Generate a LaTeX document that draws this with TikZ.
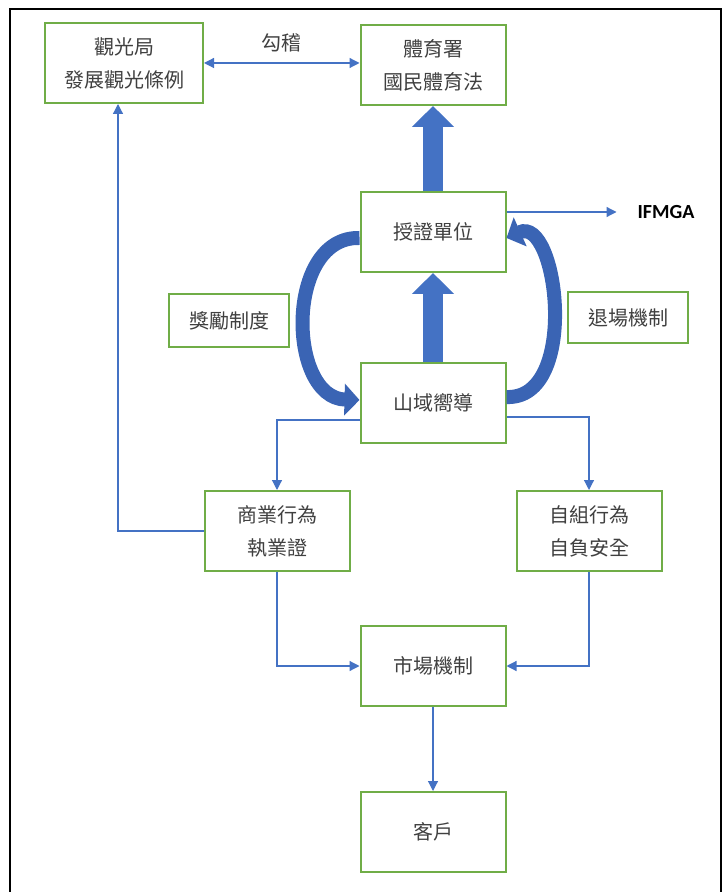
\documentclass[tikz,border=0pt]{standalone}
\usepackage{fontspec}
\usepackage{xcolor}
\usepackage{tikz}
\usetikzlibrary{arrows.meta}
\newfontfamily\cjk{Noto Sans CJK TC}
\newfontfamily\latin{Carlito}
\definecolor{box_green}{HTML}{70ad47}
\definecolor{line_blue}{HTML}{4472c4}
\definecolor{curve_blue}{HTML}{3a64b4}
\definecolor{text_gray}{HTML}{404040}

\tikzset{
  box/.style={draw=box_green, line width=1pt, fill=white, text=text_gray,
    font=\cjk\fontsize{10}{16.5}\selectfont, align=center,
    minimum width=72.5pt, minimum height=40pt, inner sep=0pt},
  smallbox/.style={box, minimum width=60pt, minimum height=26.5pt},
  thin/.style={draw=line_blue, line width=0.6pt, -{Triangle[length=5pt, width=5pt]}},
  bigarrow/.style={draw=line_blue, line width=10pt, -{Triangle[length=10.5pt, width=20.5pt]}},
  curvearrow/.style={draw=curve_blue, line width=7pt, -{Triangle[length=7.5pt, width=15.5pt]}}
}

\begin{document}
\begin{tikzpicture}[x=0.5pt, y=-0.5pt]
    \useasboundingbox (0,0) rectangle (723,892);
    % outer frame
    \draw[line width=1pt] (10,9) rectangle (721,910);

    % Draw boxes
    \node[box, minimum width=79pt] (guanguang) at (124,63) {觀光局\\發展觀光條例};
    \node[box] (tiyu) at (433,65) {體育署\\國民體育法};
    \node[box] (shouzheng) at (433,232) {授證單位};
    \node[smallbox] (jiangli) at (229,321) {獎勵制度};
    \node[smallbox, minimum height=25.5pt] (tuichang) at (628,318) {退場機制};
    \node[box] (shanyu) at (433,403) {山域嚮導};
    \node[box] (shangye) at (277,531) {商業行為\\執業證};
    \node[box] (zizu) at (589,531) {自組行為\\自負安全};
    \node[box] (shichang) at (433,666) {市場機制};
    \node[box] (kehu) at (433,832) {客戶};
    \node[font=\latin\bfseries\fontsize{10}{12}\selectfont] (ifmga) at (666,212) {IFMGA};

    % Big arrows upward
    \draw[bigarrow] (shouzheng.north) -- (tiyu.south);
    \draw[bigarrow] (shanyu.north) -- (shouzheng.south);

    % Curved arrows between guide and certifier
    \draw[curvearrow] ([yshift=-3pt]shouzheng.west) .. controls (285,236) and (287,398) .. ([yshift=1.5pt]shanyu.west);
    \draw[curvearrow] ([yshift=3pt]shanyu.east) .. controls (580,400) and (558,215) .. ([yshift=-3pt]shouzheng.east);

    % Thin connectors
    \draw[thin, {Triangle[length=5pt, width=5pt]}-{Triangle[length=5pt, width=5pt]}] (guanguang.east) -- (guanguang.east -| tiyu.west) node[midway, above=2pt, text=text_gray, font=\cjk\fontsize{10}{12}\selectfont] (gouji) {勾稽};
    \draw[thin, shorten >=7pt] ([yshift=10pt]shouzheng.east) -- (ifmga.west);
    \draw[thin] ([yshift=-8.5pt]shanyu.west) -| (shangye.north);
    \draw[thin] ([yshift=-7pt]shanyu.east) -| (zizu.north);
    \draw[thin] (shangye.west) -| ([xshift=-3pt]guanguang.south);
    \draw[thin] (shangye.south) |- (shichang.west);
    \draw[thin] (zizu.south) |- (shichang.east);
    \draw[thin] (shichang.south) -- (kehu.north);
  \end{tikzpicture}
\end{document}
